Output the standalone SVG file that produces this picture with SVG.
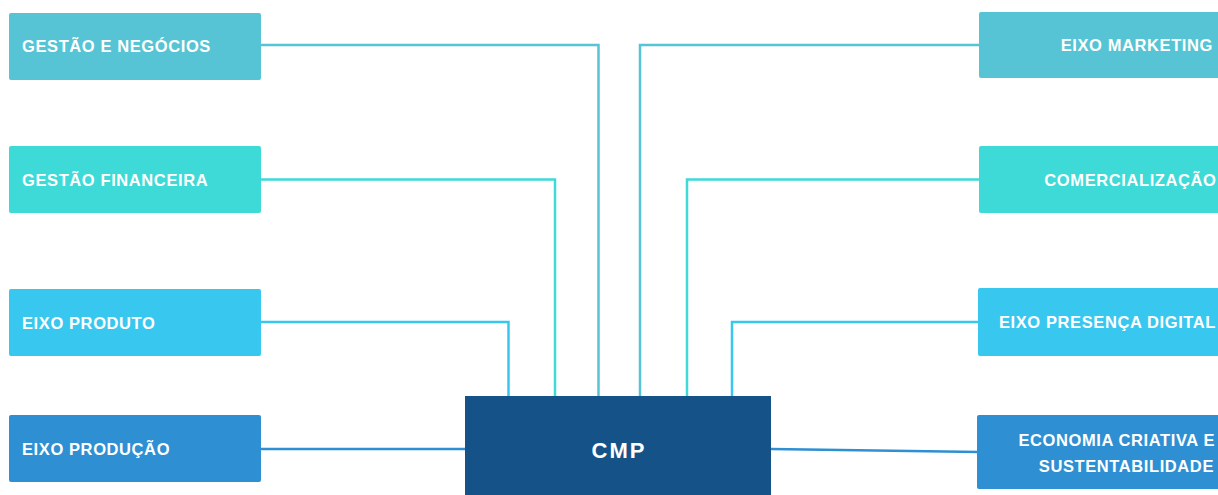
<svg xmlns="http://www.w3.org/2000/svg" width="1218" height="495" viewBox="0 0 1218 495">
<style>
.box{stroke:none}
.c1{fill:#56C4D4}
.c2{fill:#3DDAD7}
.c3{fill:#38C8EF}
.c4{fill:#2E8FD3}
.lbl{font-family:"Liberation Sans",Arial,sans-serif;font-weight:bold;font-size:16.5px;letter-spacing:0.6px;fill:#FFFFFF}
.r{text-anchor:end}
.ln{fill:none;stroke-width:2.5}
</style>
<rect width="1218" height="495" fill="#FFFFFF"/>
<g id="connectors">
<polyline class="ln" stroke="#56C4D4" points="261,45 598.5,45 598.5,396"/>
<polyline class="ln" stroke="#56C4D4" points="979,45 640,45 640,396"/>
<polyline class="ln" stroke="#3DDAD7" points="261,179.5 555,179.5 555,396"/>
<polyline class="ln" stroke="#3DDAD7" points="979,179.5 687,179.5 687,396"/>
<polyline class="ln" stroke="#38C8EF" points="261,322 508.5,322 508.5,396"/>
<polyline class="ln" stroke="#38C8EF" points="979,322 732,322 732,396"/>
<line class="ln" stroke="#2E8FD3" x1="261" y1="449" x2="465" y2="449"/>
<line class="ln" stroke="#2E8FD3" x1="771" y1="449" x2="979" y2="452"/>
</g>
<g id="gestao-negocios"><rect class="box c1" x="9" y="13" width="252" height="67" rx="2"/><text class="lbl" x="22" y="52">GESTÃO E NEGÓCIOS</text></g>
<g id="gestao-financeira"><rect class="box c2" x="9" y="146" width="252" height="67" rx="2"/><text class="lbl" x="22" y="185.5">GESTÃO FINANCEIRA</text></g>
<g id="eixo-produto"><rect class="box c3" x="9" y="289" width="252" height="67" rx="2"/><text class="lbl" x="22" y="328.5">EIXO PRODUTO</text></g>
<g id="eixo-producao"><rect class="box c4" x="9" y="415" width="252" height="67" rx="2"/><text class="lbl" x="22" y="455">EIXO PRODUÇÃO</text></g>
<g id="eixo-marketing"><rect class="box c1" x="979" y="12" width="245" height="66" rx="2"/><text class="lbl r" x="1213" y="51">EIXO MARKETING</text></g>
<g id="comercializacao"><rect class="box c2" x="979" y="146" width="245" height="67" rx="2"/><text class="lbl r" x="1216.5" y="185.5">COMERCIALIZAÇÃO</text></g>
<g id="eixo-presenca-digital"><rect class="box c3" x="978" y="288" width="246" height="68" rx="2"/><text class="lbl r" x="1216" y="328">EIXO PRESENÇA DIGITAL</text></g>
<g id="economia-criativa"><rect class="box c4" x="977" y="415" width="247" height="74" rx="2"/><text class="lbl r" x="1215" y="446">ECONOMIA CRIATIVA E</text><text class="lbl r" x="1214" y="472">SUSTENTABILIDADE</text></g>
<g id="cmp"><rect x="465" y="396" width="306" height="110" fill="#155287"/><text x="619" y="458" text-anchor="middle" style="font-family:'Liberation Sans',Arial,sans-serif;font-weight:bold;font-size:22px;letter-spacing:2px;fill:#FFFFFF">CMP</text></g>
</svg>
